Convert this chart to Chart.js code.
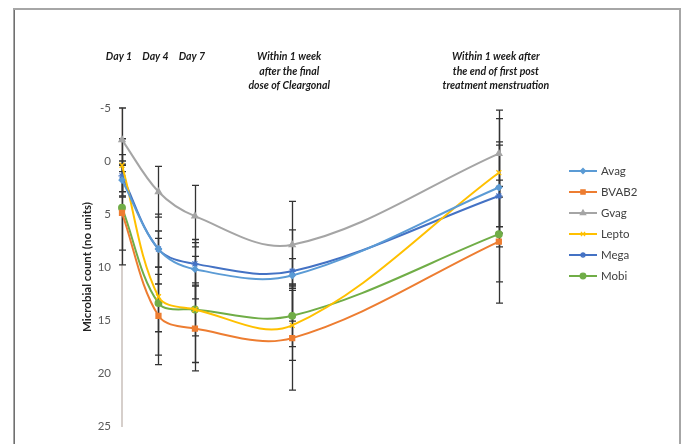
<!DOCTYPE html>
<html>
<head>
<meta charset="utf-8">
<script src="https://cdn.jsdelivr.net/npm/chart.js@4/dist/chart.umd.min.js"></script>
<style>
  html, body { margin: 0; padding: 0; background: #fff; }
  #wrap { width: 686px; height: 444px; position: relative; }
</style>
</head>
<body>
<div id="wrap"><canvas id="c" width="686" height="444"></canvas></div>
<script>
// ---- data ----
const timepointDays = [1, 4, 7, 15, 32];
const timepointLabels = [
  ["Day 1"],
  ["Day 4"],
  ["Day 7"],
  ["Within 1 week", "after the final", "dose of Cleargonal"],
  ["Within 1 week after", "the end of first post", "treatment menstruation"]
];
const seriesNames = ["Avag", "BVAB2", "Gvag", "Lepto", "Mega", "Mobi"];

const avag  = [1.8, 8.3, 10.2, 10.8, 2.5];
const bvab2 = [4.9, 14.6, 15.8, 16.7, 7.6];
const gvag  = [-2.0, 2.9, 5.2, 7.9, -0.7];
const lepto = [0.4, 12.8, 14.0, 15.5, 1.1];
const mega  = [1.4, 8.3, 9.7, 10.4, 3.3];
const mobi  = [4.4, 13.4, 14.0, 14.6, 6.9];

const avagErr  = [1.5, 3.3, 2.8, 4.3, 4.3];
const bvab2Err = [4.9, 4.6, 4.0, 4.9, 5.8];
const gvagErr  = [3.0, 2.4, 2.9, 4.1, 4.1];
const leptoErr = [2.5, 5.5, 5.0, 3.3, 5.1];
const megaErr  = [2.0, 1.7, 2.0, 1.2, 4.8];
const mobiErr  = [4.0, 2.7, 2.5, 2.9, 4.5];

const yTickValues = [-5, 0, 5, 10, 15, 20, 25];

// ---- styles ----
const colors = ["#5B9BD5", "#ED7D31", "#A5A5A5", "#FFC000", "#4472C4", "#70AD47"];
const pointStyles = ["rectRot", "rect", "triangle", "crossRot", "star", "circle"];
const pointRadii = [3, 3.5, 3.5, 3.5, 3.5, 3.3];
const allValues = [avag, bvab2, gvag, lepto, mega, mobi];
const allErrors = [avagErr, bvab2Err, gvagErr, leptoErr, megaErr, mobiErr];

const datasets = seriesNames.map((name, i) => ({
  label: name,
  data: timepointDays.map((d, j) => ({ x: d, y: allValues[i][j] })),
  errors: allErrors[i],
  borderColor: colors[i],
  backgroundColor: colors[i],
  pointBackgroundColor: colors[i],
  pointBorderColor: colors[i],
  pointStyle: pointStyles[i],
  pointRadius: pointRadii[i],
  pointBorderWidth: 1.3,
  borderWidth: 2,
  tension: 0.35,
  clip: false,
  order: 0
}));

const framePlugin = {
  id: 'frame',
  beforeDraw(chart) {
    const ctx = chart.ctx;
    ctx.save();
    ctx.fillStyle = '#ffffff';
    ctx.fillRect(0, 0, chart.width, chart.height);
    ctx.strokeStyle = '#a6a6a6';
    ctx.lineWidth = 2;
    ctx.beginPath();
    ctx.moveTo(14, 444); ctx.lineTo(14, 9); ctx.lineTo(680, 9); ctx.lineTo(680, 444);
    ctx.stroke();
    ctx.strokeStyle = '#707070';
    ctx.lineWidth = 1;
    ctx.beginPath();
    ctx.moveTo(14.5, 444); ctx.lineTo(14.5, 10);
    ctx.stroke();
    ctx.restore();
  }
};

const errorBarPlugin = {
  id: 'errorBars',
  beforeDatasetsDraw(chart) {
    const ctx = chart.ctx;
    const xs = chart.scales.x, ys = chart.scales.y;
    ctx.save();
    ctx.strokeStyle = '#333333';
    ctx.lineWidth = 1.3;
    chart.data.datasets.forEach(ds => {
      ds.data.forEach((p, j) => {
        const e = ds.errors[j];
        const lo = Math.max(ys.min, p.y - e), hi = Math.min(ys.max, p.y + e);
        const px = Math.round(xs.getPixelForValue(p.x)) + 0.5;
        const y1 = ys.getPixelForValue(lo), y2 = ys.getPixelForValue(hi);
        ctx.beginPath();
        ctx.moveTo(px, y1); ctx.lineTo(px, y2);
        ctx.moveTo(px - 3.5, y1); ctx.lineTo(px + 3.5, y1);
        ctx.moveTo(px - 3.5, y2); ctx.lineTo(px + 3.5, y2);
        ctx.stroke();
      });
    });
    ctx.restore();
  }
};

const annotationPlugin = {
  id: 'annotations',
  afterDraw(chart) {
    const ctx = chart.ctx;
    const xs = chart.scales.x;
    ctx.save();
    ctx.fillStyle = '#1a1a1a';
    ctx.font = 'italic bold 10.5px Lato, "Liberation Sans", sans-serif';
    ctx.textAlign = 'center';
    ctx.textBaseline = 'middle';
    timepointLabels.forEach((lines, i) => {
      const px = xs.getPixelForValue(timepointDays[i]);
      lines.forEach((t, k) => ctx.fillText(t, px - 3, 57 + k * 14.5));
    });

    // legend
    ctx.font = '11.5px Lato, "Liberation Sans", sans-serif';
    ctx.textAlign = 'left';
    chart.data.datasets.forEach((ds, i) => {
      const y = 171 + i * 21;
      ctx.strokeStyle = ds.borderColor;
      ctx.lineWidth = 2;
      ctx.beginPath();
      ctx.moveTo(569, y); ctx.lineTo(597, y);
      ctx.stroke();
      ctx.fillStyle = ds.pointBackgroundColor;
      ctx.strokeStyle = ds.pointBorderColor;
      ctx.lineWidth = 1.3;
      Chart.helpers.drawPoint(ctx, {
        pointStyle: ds.pointStyle, radius: ds.pointRadius - 0.5, borderWidth: 1.3, rotation: 0
      }, 583, y);
      ctx.fillStyle = '#404040';
      ctx.fillText(ds.label, 601, y + 0.5);
    });
    ctx.restore();
  }
};

new Chart(document.getElementById('c'), {
  type: 'line',
  data: { datasets },
  options: {
    responsive: false,
    animation: false,
    devicePixelRatio: 1,
    layout: { padding: { left: 72, top: 108, right: 175, bottom: 10 } },
    plugins: { legend: { display: false }, tooltip: { enabled: false } },
    scales: {
      x: {
        type: 'linear',
        display: false,
        min: 1,
        max: 33
      },
      y: {
        type: 'linear',
        reverse: true,
        min: -5,
        max: 25,
        afterBuildTicks(scale) { scale.ticks = yTickValues.map(v => ({ value: v })); },
        afterFit(scale) { scale.width = 50; },
        grid: { display: false, drawTicks: false },
        border: { display: true, color: '#d6cfcb', width: 2 },
        ticks: {
          padding: 11,
          color: '#595959',
          font: { family: 'Lato, "Liberation Sans", sans-serif', size: 11.5 }
        },
        title: {
          display: true,
          text: 'Microbial count (no units)',
          color: '#222222',
          padding: { top: 8, bottom: 0 },
          font: { family: 'Lato, "Liberation Sans", sans-serif', size: 11.5, weight: 'bold' }
        }
      }
    }
  },
  plugins: [framePlugin, errorBarPlugin, annotationPlugin]
});
</script>
</body>
</html>
